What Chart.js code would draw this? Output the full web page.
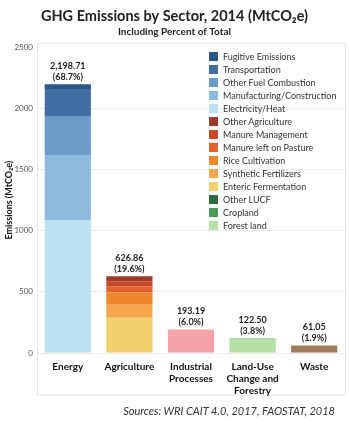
<!DOCTYPE html>
<html>
<head>
<meta charset="utf-8">
<script src="https://cdn.jsdelivr.net/npm/chart.js@4"></script>
<style>
  body { margin: 0; background: #fff; font-family: Lato, "Open Sans", sans-serif; }
  #wrap { position: relative; width: 350px; height: 431px; }
  #legend { position: absolute; left: 209px; top: 51px; font-size: 9px; color: #333; }
  #legend div { height: 13px; line-height: 12px; white-space: nowrap; }
  #legend span { display: inline-block; width: 9px; height: 9px; margin-right: 5px; vertical-align: -1px; }
  #source { position: absolute; left: 0; width: 335px; top: 404px; text-align: right; font-style: italic; font-size: 11px; color: #333; }
</style>
</head>
<body>
<div id="wrap">
  <canvas id="ghgChart" width="350" height="431"></canvas>
  <div id="legend"></div>
  <div id="source">Sources: WRI CAIT 4.0, 2017, FAOSTAT, 2018</div>
</div>
<script>
// Categories and totals
const categories = ['Energy', 'Agriculture', ['Industrial', 'Processes'], ['Land-Use', 'Change and', 'Forestry'], 'Waste'];
const totals = [2198.71, 626.86, 193.19, 122.50, 61.05];
const shares = ['68.7%', '19.6%', '6.0%', '3.8%', '1.9%'];

// Sub-sectors, bottom of stack first
const energyParts = ['Electricity/Heat', 'Manufacturing/Construction', 'Other Fuel Combustion', 'Transportation', 'Fugitive Emissions'];
const energyValues = [1087, 532, 314, 226, 39.71];
const energyColors = ['#bde0f2', '#8dbbe0', '#6b9bc9', '#416fa4', '#2c5886'];

const agriParts = ['Enteric Fermentation', 'Synthetic Fertilizers', 'Rice Cultivation', 'Manure left on Pasture', 'Manure Management', 'Other Agriculture'];
const agriValues = [288, 107, 99, 50, 42, 40.86];
const agriColors = ['#f1d06e', '#f5a54b', '#f0862b', '#e0622a', '#c44a29', '#9e3a2b'];

const industrialValue = 193.19;
const lucfParts = ['Forest land', 'Cropland', 'Other LUCF'];
const lucfValues = [118.5, 2, 2];
const lucfColors = ['#b6e0a6', '#4b9a57', '#2a6a3f'];
const wasteValue = 61.05;

const datasets = [];
function addGroup(names, values, colors, idx, inLegend) {
  names.forEach((name, i) => {
    const data = [0, 0, 0, 0, 0];
    data[idx] = values[i];
    datasets.push({ label: name, data: data, backgroundColor: colors[i], inLegend: inLegend });
  });
}
addGroup(energyParts, energyValues, energyColors, 0, true);
addGroup(agriParts, agriValues, agriColors, 1, true);
addGroup(['Industrial Processes'], [industrialValue], ['#f5a2a9'], 2, false);
addGroup(lucfParts, lucfValues, lucfColors, 3, true);
addGroup(['Waste'], [wasteValue], ['#a07a5f'], 4, false);

const fontFamily = 'Lato, "Open Sans", sans-serif';

// panel border behind the plot
const panelPlugin = {
  id: 'panel',
  beforeDraw(chart) {
    const { ctx, chartArea } = chart;
    ctx.save();
    ctx.strokeStyle = '#e6e6e6';
    ctx.lineWidth = 1;
    ctx.strokeRect(Math.round(chartArea.left) + 0.5, Math.round(chartArea.top) - 3.5,
      Math.round(chartArea.right - chartArea.left), 396 - chartArea.top + 3);
    ctx.restore();
  }
};

// value + share above each bar
const totalLabels = {
  id: 'totalLabels',
  afterDatasetsDraw(chart) {
    const { ctx, scales } = chart;
    ctx.save();
    ctx.font = 'bold 9px ' + fontFamily;
    ctx.fillStyle = '#222';
    ctx.textAlign = 'center';
    ctx.textBaseline = 'middle';
    totals.forEach((t, i) => {
      const x = scales.x.getPixelForValue(i);
      const y = scales.y.getPixelForValue(t);
      const txt = t.toLocaleString('en-US', { minimumFractionDigits: 2, maximumFractionDigits: 2 });
      ctx.fillText(txt, x, y - 18);
      ctx.fillText('(' + shares[i] + ')', x, y - 7);
    });
    ctx.restore();
  }
};

const chart = new Chart(document.getElementById('ghgChart'), {
  type: 'bar',
  data: { labels: categories, datasets: datasets },
  options: {
    responsive: false,
    animation: false,
    devicePixelRatio: 1,
    layout: { padding: { left: 4, right: 5, top: 0, bottom: 34 } },
    datasets: { bar: { barPercentage: 0.75, categoryPercentage: 1, borderWidth: 0 } },
    scales: {
      x: {
        stacked: true,
        grid: { display: false },
        border: { display: false },
        ticks: {
          color: '#111',
          padding: 0,
          maxRotation: 0,
          autoSkip: false,
          font: { family: fontFamily, size: 10, weight: 'bold', lineHeight: 1.2 }
        }
      },
      y: {
        stacked: true,
        min: 0,
        max: 2500,
        afterFit: s => { s.width = 33; },
        grid: {
          color: ctx => (ctx.tick && ctx.tick.value === 2500) ? 'rgba(0,0,0,0)' : '#ebebeb',
          drawTicks: false
        },
        border: { display: false },
        ticks: {
          stepSize: 500,
          padding: 4,
          color: '#555',
          callback: v => String(v),
          font: { family: fontFamily, size: 8 }
        },
        title: {
          display: true,
          text: 'Emissions (MtCO\u2082e)',
          color: '#111',
          padding: { top: 0, bottom: 2 },
          font: { family: fontFamily, size: 9, weight: 'bold' }
        }
      }
    },
    plugins: {
      legend: { display: false },
      tooltip: { enabled: false },
      title: {
        display: true,
        text: 'GHG Emissions by Sector, 2014 (MtCO\u2082e)',
        color: '#222',
        padding: { top: 8, bottom: 0 },
        font: { family: fontFamily, size: 14.5, weight: 'bold' }
      },
      subtitle: {
        display: true,
        text: 'Including Percent of Total',
        color: '#222',
        padding: { bottom: 10 },
        font: { family: fontFamily, size: 10, weight: 'bold' }
      }
    }
  },
  plugins: [panelPlugin, totalLabels]
});

// legend, top of stack first
const legendBox = document.getElementById('legend');
const legendItems = datasets.filter(d => d.inLegend);
const groups = [legendItems.slice(0, 5), legendItems.slice(5, 11), legendItems.slice(11)];
groups.forEach(g => {
  g.slice().reverse().forEach(d => {
    const row = document.createElement('div');
    row.innerHTML = '<span style="background:' + d.backgroundColor + '"></span>' + d.label;
    legendBox.appendChild(row);
  });
});
</script>
</body>
</html>
